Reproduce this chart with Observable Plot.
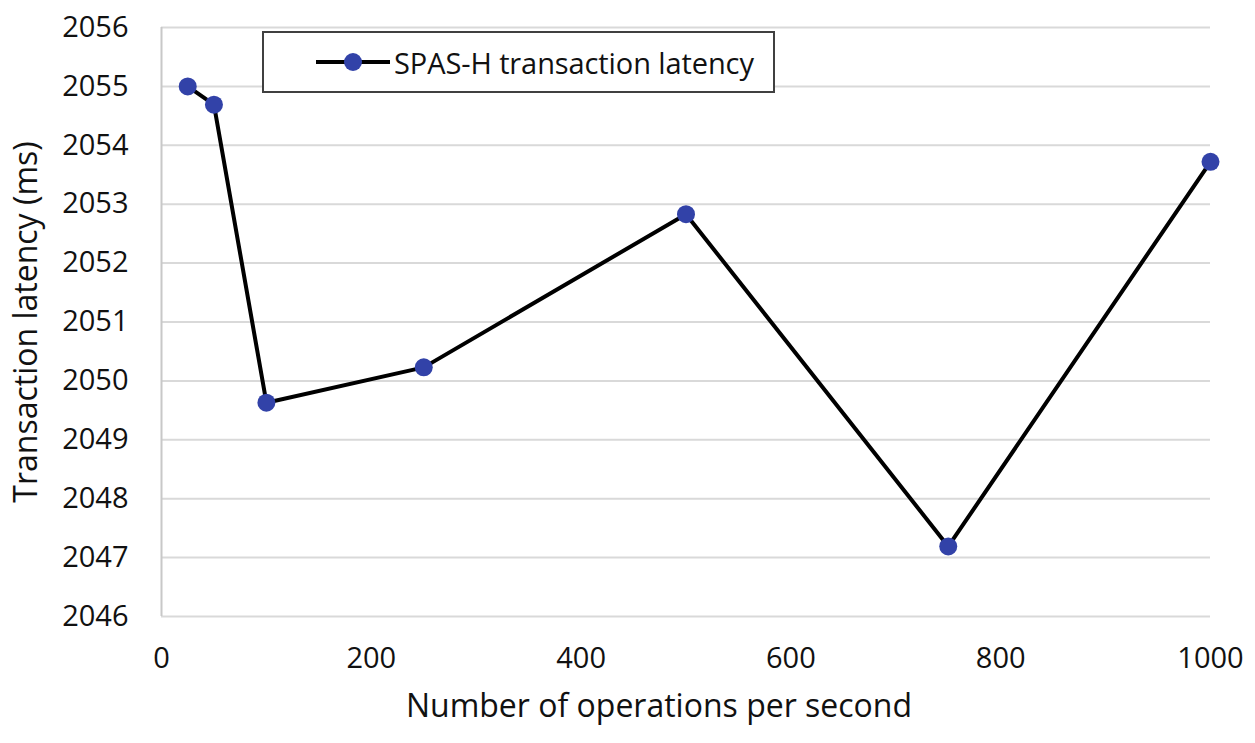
<!DOCTYPE html>
<html>
<head>
<meta charset="utf-8">
<script src="https://cdn.jsdelivr.net/npm/d3@7"></script>
<script src="https://cdn.jsdelivr.net/npm/@observablehq/plot@0.6"></script>
<style>
  html, body { margin: 0; padding: 0; background: #fff; }
  #wrap { position: relative; width: 1255px; height: 743px; font-family: "Open Sans", sans-serif; }
  #legend {
    position: absolute; left: 262px; top: 31px; width: 513px; height: 62px;
    border: 2px solid #404040; background: #fff; box-sizing: border-box;
    display: flex; align-items: center; padding-left: 52px;
    font-size: 29px; color: #111; letter-spacing: -0.1px;
  }
  #legend svg { margin-right: 4px; }
</style>
</head>
<body>
<div id="wrap"></div>
<script>
const opsPerSecond = [25, 50, 100, 250, 500, 750, 1000];
const latencyMs = [2055.0, 2054.69, 2049.63, 2050.23, 2052.83, 2047.19, 2053.72];
const xTicks = [0, 200, 400, 600, 800, 1000];
const yTicks = [2046, 2047, 2048, 2049, 2050, 2051, 2052, 2053, 2054, 2055, 2056];
const seriesName = "SPAS-H transaction latency";
const xLabel = "Number of operations per second";
const yLabel = "Transaction latency (ms)";

const data = opsPerSecond.map((x, i) => ({x, y: latencyMs[i]}));
const dotColor = "#3242a8";

const chart = Plot.plot({
  width: 1255,
  height: 743,
  marginLeft: 161,
  marginRight: 45,
  marginTop: 27,
  marginBottom: 127,
  style: {fontFamily: "Open Sans, sans-serif", fontSize: "29px", color: "#111", background: "#fff"},
  x: {domain: [0, 1000], ticks: xTicks, tickFormat: "d", tickSize: 0, tickPadding: 31, label: xLabel, labelAnchor: "center", labelOffset: 100, labelArrow: "none"},
  y: {domain: [2046, 2056], ticks: yTicks, tickFormat: "d", tickSize: 0, tickPadding: 33, label: yLabel, labelAnchor: "center", labelOffset: 147, labelArrow: "none"},
  marks: [
    Plot.ruleY(yTicks, {stroke: "#d9d9d9", strokeWidth: 2}),
    Plot.ruleX([0], {stroke: "#c8c8c8", strokeWidth: 2}),
    Plot.line(data, {x: "x", y: "y", stroke: "#000", strokeWidth: 4}),
    Plot.dot(data, {x: "x", y: "y", r: 9, fill: dotColor, stroke: "none"})
  ]
});
chart.querySelectorAll("text").forEach(t => {
  if (t.textContent === xLabel) {
    t.style.fontSize = "32px";
    t.setAttribute("dx", "-27");
  } else if (t.textContent === yLabel) {
    t.style.fontSize = "32px";
  }
});
const wrap = document.getElementById("wrap");
wrap.appendChild(chart);

const legend = document.createElement("div");
legend.id = "legend";
legend.innerHTML = `<svg width="74" height="20"><line x1="0" y1="10" x2="74" y2="10" stroke="#000" stroke-width="4"/><circle cx="37" cy="10" r="9" fill="${dotColor}"/></svg><span>${seriesName}</span>`;
wrap.appendChild(legend);
</script>
</body>
</html>
